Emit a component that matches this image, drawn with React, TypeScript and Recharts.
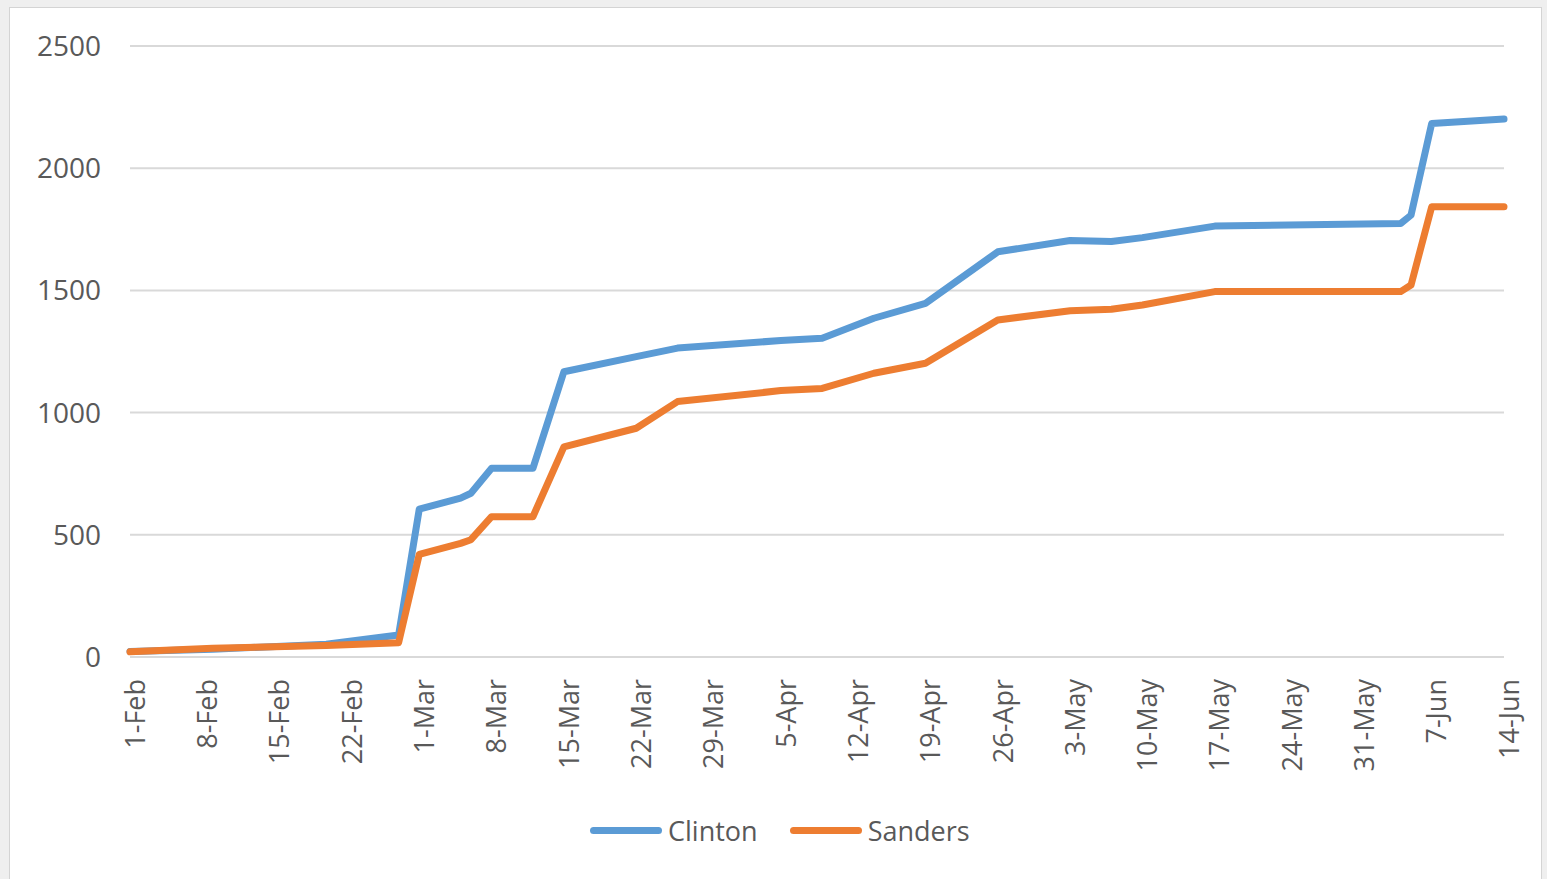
import { CartesianGrid, Line, LineChart, XAxis, YAxis } from 'recharts'

// Cumulative delegates by date (non-leap calendar, matching the date axis)
const pointDates = [
  '1-Feb', '9-Feb', '20-Feb', '27-Feb', '1-Mar', '5-Mar', '6-Mar', '8-Mar', '12-Mar',
  '15-Mar', '22-Mar', '26-Mar', '5-Apr', '9-Apr', '14-Apr', '19-Apr', '26-Apr',
  '3-May', '7-May', '10-May', '17-May', '4-Jun', '5-Jun', '7-Jun', '14-Jun',
]
const clinton = [
  23, 32, 52, 90, 605, 650, 670, 772, 772,
  1167, 1229, 1264, 1295, 1304, 1386, 1447, 1658,
  1704, 1700, 1716, 1763, 1774, 1808, 2183, 2201,
]
const sanders = [
  21, 36, 47, 58, 420, 465, 480, 574, 574,
  860, 936, 1045, 1090, 1099, 1161, 1202, 1379,
  1417, 1423, 1440, 1495, 1495, 1522, 1842, 1842,
]

const tickLabels = [
  '1-Feb', '8-Feb', '15-Feb', '22-Feb', '1-Mar', '8-Mar', '15-Mar', '22-Mar', '29-Mar', '5-Apr',
  '12-Apr', '19-Apr', '26-Apr', '3-May', '10-May', '17-May', '24-May', '31-May', '7-Jun', '14-Jun',
]
const yTicks = [0, 500, 1000, 1500, 2000, 2500]

const series = [
  { key: 'Clinton', color: '#5B9BD5' },
  { key: 'Sanders', color: '#ED7D31' },
]

const monthStart: Record<string, number> = { Feb: 0, Mar: 28, Apr: 59, May: 89, Jun: 120 }

function dayOf(label: string) {
  const [d, m] = label.split('-')
  return monthStart[m] + Number(d) - 1
}

const rows = pointDates.map((d, i) => ({
  day: dayOf(d),
  Clinton: clinton[i],
  Sanders: sanders[i],
}))

const xTicks = tickLabels.map(dayOf)
const labelByDay = new Map(xTicks.map((d, i) => [d, tickLabels[i]]))

const FONT = '"Open Sans", sans-serif'
const TEXT = '#595959'
const GRID = '#d9d9d9'

function DateTick({ x, y, payload }: any) {
  const tx = x + 5
  const ty = y + 22
  return (
    <text
      x={tx}
      y={ty}
      transform={`rotate(-90, ${tx}, ${ty})`}
      textAnchor="end"
      dy="0.36em"
      fill={TEXT}
      fontSize={27}
      fontFamily={FONT}
    >
      {labelByDay.get(payload.value)}
    </text>
  )
}

export default function App() {
  return (
    <div
      style={{
        position: 'fixed',
        left: 0,
        top: 0,
        width: 1547,
        height: 879,
        background: '#efefef',
        overflow: 'hidden',
      }}
    >
      <div
        style={{
          position: 'absolute',
          left: 9,
          top: 7,
          width: 1531,
          height: 900,
          background: '#fff',
          border: '1px solid #d4d4d4',
        }}
      >
        <LineChart
          width={1531}
          height={880}
          data={rows}
          margin={{ top: 38, right: 37, bottom: 101, left: 0 }}
        >
          <CartesianGrid vertical={false} stroke={GRID} strokeWidth={2} />
          <XAxis
            type="number"
            dataKey="day"
            domain={[0, 133]}
            ticks={xTicks}
            interval={0}
            tick={<DateTick />}
            tickLine={false}
            tickSize={0}
            tickMargin={0}
            axisLine={{ stroke: GRID, strokeWidth: 2 }}
            height={130}
          />
          <YAxis
            domain={[0, 2500]}
            ticks={yTicks}
            width={120}
            axisLine={false}
            tickLine={false}
            tickSize={0}
            tickMargin={29}
            tick={{ fill: TEXT, fontSize: 28, fontFamily: FONT }}
          />
          {series.map((s) => (
            <Line
              key={s.key}
              type="linear"
              dataKey={s.key}
              stroke={s.color}
              strokeWidth={7}
              strokeLinecap="round"
              strokeLinejoin="round"
              dot={false}
              activeDot={false}
              isAnimationActive={false}
            />
          ))}
        </LineChart>
        <div
          style={{
            position: 'absolute',
            left: 580,
            top: 804,
            display: 'flex',
            alignItems: 'center',
            gap: 32,
            fontFamily: FONT,
            fontSize: 27,
            color: TEXT,
          }}
        >
          {series.map((s) => (
            <div key={s.key} style={{ display: 'flex', alignItems: 'center', gap: 6 }}>
              <span
                style={{
                  display: 'inline-block',
                  width: 72,
                  height: 7,
                  borderRadius: 4,
                  background: s.color,
                }}
              />
              <span>{s.key}</span>
            </div>
          ))}
        </div>
      </div>
    </div>
  )
}
